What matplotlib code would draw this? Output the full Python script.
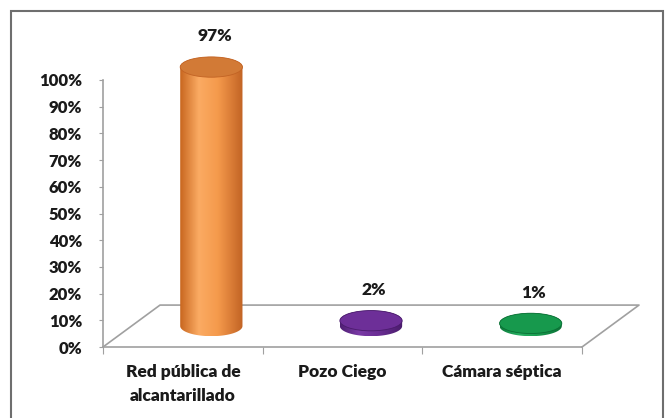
import matplotlib.pyplot as plt
import numpy as np
from matplotlib.colors import LinearSegmentedColormap
from matplotlib.patches import PathPatch, Ellipse, Rectangle
from matplotlib.path import Path

plt.rcParams['font.family'] = ['Lato', 'DejaVu Sans']

categories = ["Red pública de\nalcantarillado", "Pozo Ciego", "Cámara séptica"]
values = [0.97, 0.02, 0.01]
value_labels = ["97%", "2%", "1%"]
yticks = [0.0, 0.1, 0.2, 0.3, 0.4, 0.5, 0.6, 0.7, 0.8, 0.9, 1.0]
ytick_labels = ["0%", "10%", "20%", "30%", "40%", "50%", "60%", "70%", "80%", "90%", "100%"]

# side gradient (left edge, highlight, body, right edge) and top colour per series
side_colors = [
    ["#c8661f", "#fbab63", "#f59a4c", "#c26324"],
    ["#4f1f73", "#7a3aa6", "#6b2e95", "#4a1c6c"],
    ["#0c7a3a", "#27b062", "#1a9d50", "#0b6f35"],
]
top_colors = ["#d27a36", "#6d2f98", "#17994d"]
text_kw = dict(fontweight="heavy", color="#1a1a1a")

fig = plt.figure(figsize=(6.69, 4.18), dpi=100)
W, H = 669, 418
ytop = 1.25
ax = fig.add_axes([103 / W, (H - 347) / H, 479 / W, ytop * 267 / H])
ax.patch.set_visible(False)

# floor depth (full depth offset of the 3-D floor, in data units)
ddx, ddy = 0.357, 0.157
grey = "#a0a0a0"
ax.plot([0, ddx, 3 + ddx, 3], [0, ddy, ddy, 0], color=grey, lw=1.2,
        clip_on=False, zorder=1)

bar_w = 0.39      # cylinder width in x units
ell_h = 0.038     # half height of the ellipse in y units
a = bar_w / 2
t = np.linspace(0, np.pi, 60)

for i, (v, lab) in enumerate(zip(values, value_labels)):
    cx = i + 0.5 + ddx / 2
    y0 = ddy / 2
    y1 = y0 + v
    # outline: bottom front arc, right side, top back arc, left side
    xb = cx - a * np.cos(t)
    yb = y0 - ell_h * np.sin(t)
    xt = cx + a * np.cos(t)
    yt = y1 + ell_h * np.sin(t)
    verts = np.column_stack([np.r_[xb, xt], np.r_[yb, yt]])
    path = Path(np.vstack([verts, verts[:1]]), closed=True)
    patch = PathPatch(path, facecolor="none", edgecolor="none")
    ax.add_patch(patch)

    cmap = LinearSegmentedColormap.from_list(
        "side%d" % i, list(zip([0, 0.3, 0.6, 1], side_colors[i])))
    grad = np.linspace(0, 1, 256).reshape(1, -1)
    im = ax.imshow(grad, cmap=cmap, aspect="auto",
                   extent=[cx - a, cx + a, y0 - ell_h, y1 + ell_h],
                   zorder=2, interpolation="bilinear")
    im.set_clip_path(patch)

    top = Ellipse((cx, y1), 2 * a, 2 * ell_h, facecolor=top_colors[i],
                  edgecolor=side_colors[i][3], lw=0.6, zorder=3)
    ax.add_patch(top)

    ax.text(cx + 0.02, y1 + 0.115, lab, ha="center", va="center",
            fontsize=12.5, **text_kw)

ax.set_xlim(0, 3)
ax.set_ylim(0, ytop)

for s in ["top", "right"]:
    ax.spines[s].set_visible(False)
ax.spines["left"].set_bounds(0, 1)
ax.spines["left"].set_color(grey)
ax.spines["bottom"].set_color(grey)
ax.spines["left"].set_linewidth(1.2)
ax.spines["bottom"].set_linewidth(1.2)

ax.set_yticks(yticks)
ax.set_yticklabels(ytick_labels, fontsize=12, **text_kw)
ax.set_xticks([0, 1, 2, 3])
ax.set_xticklabels([])
ax.tick_params(axis="y", length=3, color=grey, pad=12)
ax.tick_params(axis="x", length=5, color=grey)

for i, cat in enumerate(categories):
    ax.text(i + 0.5, -0.065, cat, ha="center", va="top", fontsize=12.5,
            linespacing=1.6, clip_on=False, **text_kw)

# chart frame
fig.patches.append(Rectangle((11 / W, -0.02), (663 - 11) / W, 1.0 - 11 / H + 0.02,
                             transform=fig.transFigure, fill=False,
                             edgecolor="#6e6e6e", lw=1.5))

fig.savefig("out.png", dpi=100)
